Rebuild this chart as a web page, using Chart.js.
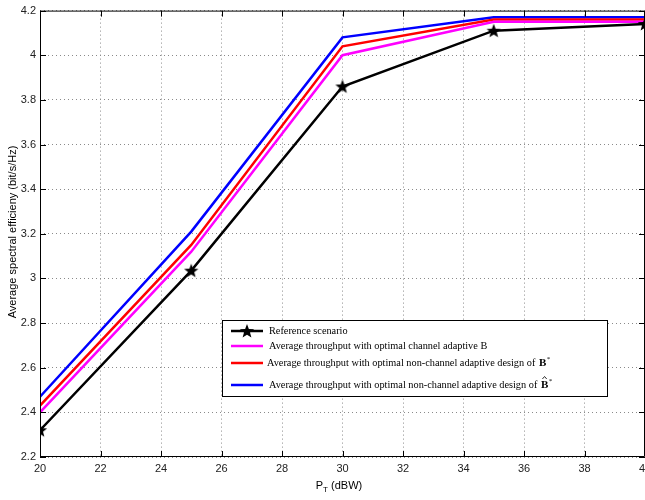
<!DOCTYPE html>
<html><head><meta charset="utf-8">
<script src="https://cdn.jsdelivr.net/npm/chart.js@4/dist/chart.umd.min.js"></script>
<style>
html,body{margin:0;padding:0;overflow:hidden;background:#fff;width:645px;height:500px}
#wrap{position:absolute;left:0;top:0;width:665px;height:500px}
</style>
</head><body><div id="wrap"><canvas id="c" width="665" height="500"></canvas></div>
<script>
const powerDbw = [20, 25, 30, 35, 40];
const referenceScenario = [2.32, 3.035, 3.86, 4.11, 4.14];
const channelAdaptiveB = [2.40, 3.12, 4.00, 4.15, 4.15];
const nonAdaptiveB = [2.43, 3.15, 4.04, 4.16, 4.16];
const nonAdaptiveBhat = [2.47, 3.21, 4.08, 4.17, 4.17];
const xTickValues = [20, 22, 24, 26, 28, 30, 32, 34, 36, 38, 40];
const yTickValues = [2.2, 2.4, 2.6, 2.8, 3, 3.2, 3.4, 3.6, 3.8, 4, 4.2];
const seriesNames = [
  'Reference scenario',
  'Average throughput with optimal channel adaptive B',
  'Average throughput with optimal non-channel adaptive design of ',
  'Average throughput with optimal non-channel adaptive design of '
];
const xTitle = ['P', 'T', ' (dBW)'];
const yTitle = 'Average spectral efficieny (bit/s/Hz)';

function makeStar(size) {
  const c = document.createElement('canvas');
  c.width = size; c.height = size;
  const g = c.getContext('2d');
  const cx = size / 2, cy = size / 2 + 0.5, R = size / 2 - 0.5, r = R * 0.42;
  g.beginPath();
  for (let i = 0; i < 10; i++) {
    const a = -Math.PI / 2 + i * Math.PI / 5;
    const rr = i % 2 === 0 ? R : r;
    const px = cx + rr * Math.cos(a), py = cy + rr * Math.sin(a);
    if (i === 0) g.moveTo(px, py); else g.lineTo(px, py);
  }
  g.closePath();
  g.fillStyle = '#000';
  g.fill();
  return c;
}
const starImg = makeStar(16);

function pts(ys) { return powerDbw.map((x, i) => ({x: x, y: ys[i]})); }

const sansFont = '"Liberation Sans", Arial, sans-serif';
const serifFont = '"Liberation Serif", "Times New Roman", serif';

const framePlugin = {
  id: 'frame',
  afterDraw(chart) {
    const ctx = chart.ctx;
    const a = chart.chartArea;
    const xs = chart.scales.x, ys = chart.scales.y;
    ctx.save();
    ctx.strokeStyle = '#000';
    ctx.lineWidth = 1;
    ctx.beginPath();
    ctx.moveTo(a.left + 0.5, a.top + 0.5);
    ctx.lineTo(a.right - 0.5, a.top + 0.5);
    ctx.lineTo(a.right - 0.5, a.bottom - 0.5);
    ctx.lineTo(a.left + 0.5, a.bottom - 0.5);
    ctx.closePath();
    ctx.stroke();
    // inward ticks
    ctx.beginPath();
    xTickValues.forEach(v => {
      const px = Math.round(xs.getPixelForValue(v)) + 0.5;
      ctx.moveTo(px, a.bottom); ctx.lineTo(px, a.bottom - 6);
      ctx.moveTo(px, a.top); ctx.lineTo(px, a.top + 6);
    });
    yTickValues.forEach(v => {
      const py = Math.round(ys.getPixelForValue(v)) + 0.5;
      ctx.moveTo(a.left, py); ctx.lineTo(a.left + 6, py);
      ctx.moveTo(a.right, py); ctx.lineTo(a.right - 6, py);
    });
    ctx.stroke();

    // legend
    const lx = 222.5, ly = 320.5, lw = 385, lh = 76;
    ctx.fillStyle = '#fff';
    ctx.fillRect(lx, ly, lw, lh);
    ctx.strokeRect(lx, ly, lw, lh);
    const colors = ['#000000', '#ff00ff', '#ff0000', '#0000ff'];
    const rowsY = [331, 346, 363, 385];
    const textX = [269, 269, 267, 269];
    const legFont = '10.3px ' + serifFont;
    ctx.textBaseline = 'middle';
    ctx.textAlign = 'left';
    for (let i = 0; i < 4; i++) {
      ctx.strokeStyle = colors[i];
      ctx.lineWidth = 2.5;
      ctx.beginPath();
      ctx.moveTo(231, rowsY[i]); ctx.lineTo(263, rowsY[i]);
      ctx.stroke();
      if (i === 0) ctx.drawImage(starImg, 247 - 8, rowsY[i] - 8);
      ctx.fillStyle = '#000';
      ctx.font = legFont;
      ctx.fillText(seriesNames[i], textX[i], rowsY[i]);
      if (i >= 2) {
        const w = ctx.measureText(seriesNames[i]).width;
        const bx = textX[i] + w + 1;
        ctx.font = 'bold 11px ' + serifFont;
        ctx.fillText('B', bx, rowsY[i] + 0.5);
        const bw = ctx.measureText('B').width;
        ctx.font = '7px ' + serifFont;
        ctx.fillText('*', bx + bw + 0.5, rowsY[i] - 4);
        if (i === 3) {
          ctx.strokeStyle = '#000';
          ctx.lineWidth = 0.8;
          ctx.beginPath();
          ctx.moveTo(bx + 1.5, rowsY[i] - 6);
          ctx.lineTo(bx + bw / 2, rowsY[i] - 8.5);
          ctx.lineTo(bx + bw - 1.5, rowsY[i] - 6);
          ctx.stroke();
        }
      }
    }

    // axis titles
    ctx.fillStyle = '#000';
    ctx.font = '11px ' + sansFont;
    ctx.textBaseline = 'alphabetic';
    ctx.textAlign = 'left';
    const wP = ctx.measureText(xTitle[0]).width;
    ctx.font = '8px ' + sansFont;
    const wT = ctx.measureText(xTitle[1]).width;
    ctx.font = '11px ' + sansFont;
    const wR = ctx.measureText(xTitle[2]).width;
    let tx = 339 - (wP + wT + wR) / 2;
    ctx.fillText(xTitle[0], tx, 489);
    ctx.font = '8px ' + sansFont;
    ctx.fillText(xTitle[1], tx + wP, 492);
    ctx.font = '11px ' + sansFont;
    ctx.fillText(xTitle[2], tx + wP + wT, 489);

    ctx.translate(16, 232);
    ctx.rotate(-Math.PI / 2);
    ctx.textAlign = 'center';
    ctx.fillText(yTitle, 0, 0);
    ctx.restore();
  }
};

new Chart(document.getElementById('c'), {
  type: 'line',
  data: {
    datasets: [
      {label: seriesNames[0], data: pts(referenceScenario), borderColor: '#000', borderWidth: 2.5,
       pointStyle: starImg, pointRadius: 8, pointBackgroundColor: '#000', order: 1},
      {label: seriesNames[1], data: pts(channelAdaptiveB), borderColor: '#ff00ff', borderWidth: 2.5, pointRadius: 0, order: 2},
      {label: seriesNames[2], data: pts(nonAdaptiveB), borderColor: '#ff0000', borderWidth: 2.5, pointRadius: 0, order: 3},
      {label: seriesNames[3], data: pts(nonAdaptiveBhat), borderColor: '#0000ff', borderWidth: 2.5, pointRadius: 0, order: 4}
    ]
  },
  options: {
    responsive: false,
    animation: false,
    devicePixelRatio: 1,
    layout: {padding: {top: 7, right: 20, left: 0, bottom: 0}},
    plugins: {legend: {display: false}, tooltip: {enabled: false}},
    elements: {line: {tension: 0, borderCapStyle: 'butt', borderJoinStyle: 'miter'}},
    scales: {
      x: {
        type: 'linear', min: 20, max: 40,
        afterBuildTicks: s => { s.ticks = xTickValues.map(v => ({value: v})); },
        afterFit: s => { s.height = 43; },
        grid: {color: '#8a8a8a', lineWidth: 1, drawTicks: false},
        border: {display: false, dash: [1, 3]},
        ticks: {padding: 5, color: '#222', font: {family: sansFont, size: 11}, maxRotation: 0,
                callback: v => String(v)}
      },
      y: {
        type: 'linear', min: 2.2, max: 4.2,
        afterBuildTicks: s => { s.ticks = yTickValues.map(v => ({value: v})); },
        afterFit: s => { s.width = 40; },
        grid: {color: '#8a8a8a', lineWidth: 1, drawTicks: false},
        border: {display: false, dash: [1, 3]},
        ticks: {padding: 4, color: '#222', font: {family: sansFont, size: 11},
                callback: v => String(parseFloat(Number(v).toFixed(1)))}
      }
    }
  },
  plugins: [framePlugin]
});
</script>
</body></html>
